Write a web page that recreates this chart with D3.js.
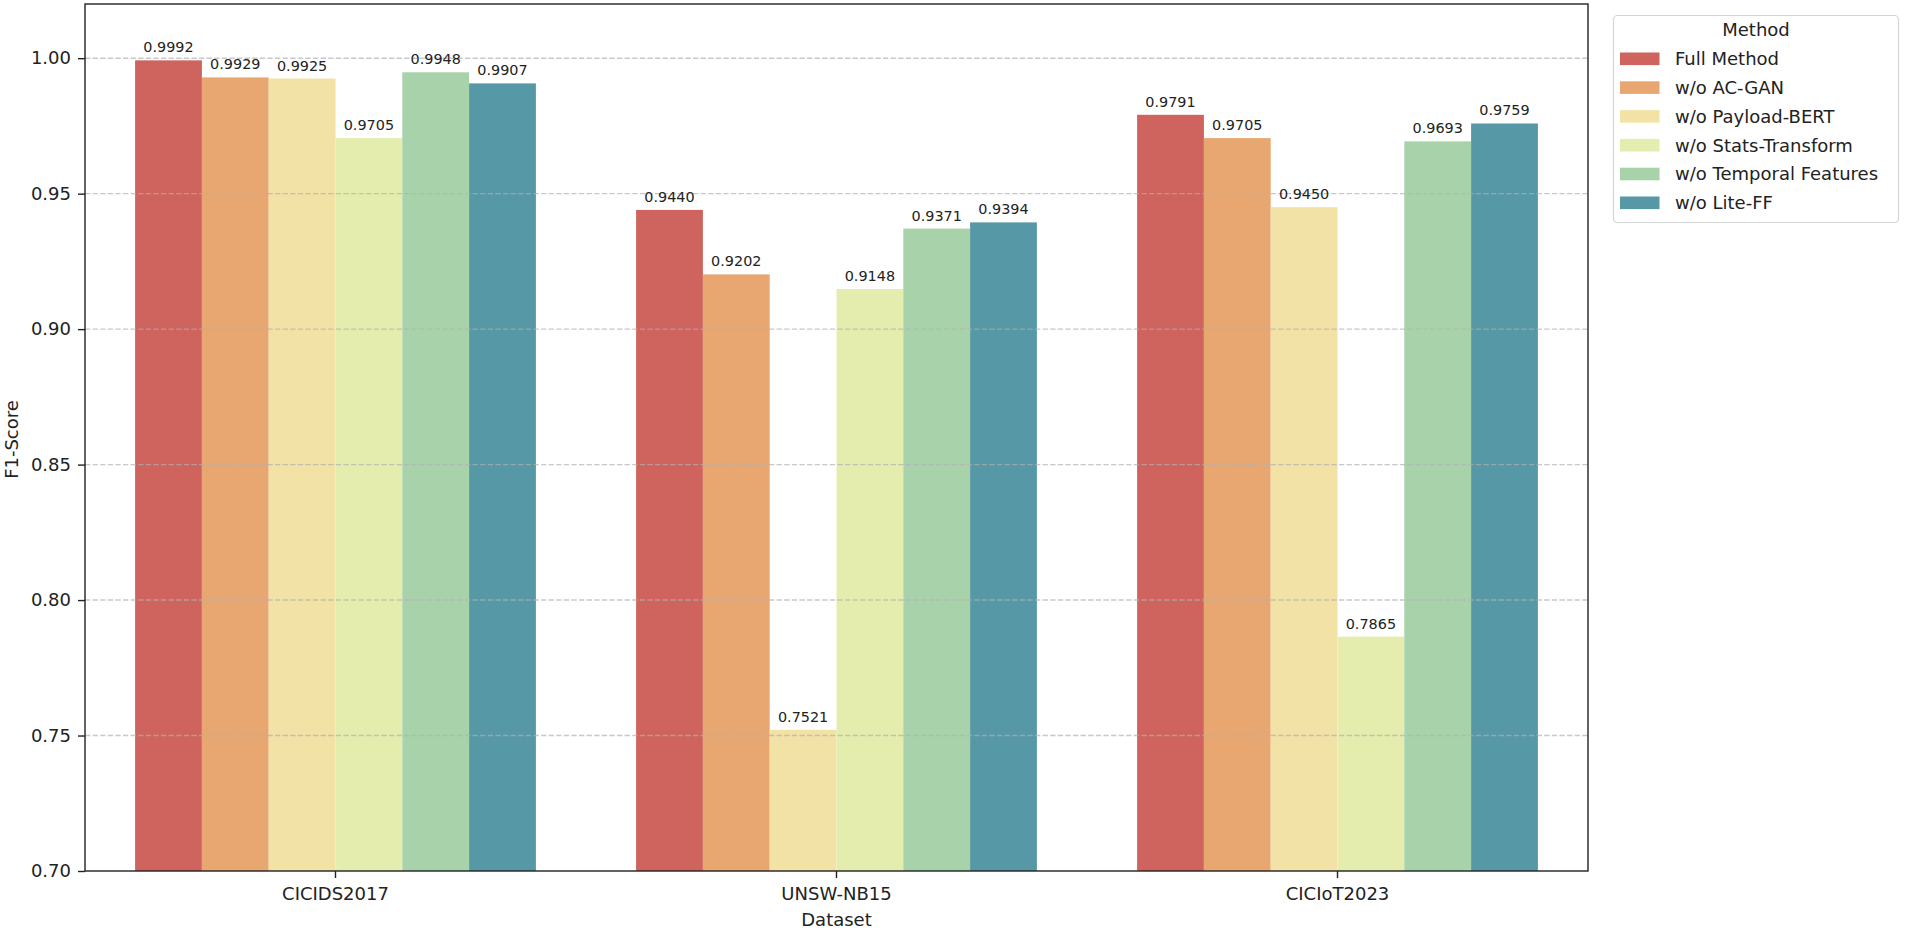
<!DOCTYPE html>
<html>
<head>
<meta charset="utf-8">
<script src="https://cdn.jsdelivr.net/npm/d3@7"></script>
<style>
  html, body { margin: 0; padding: 0; background: #fff; }
  svg { display: block; font-family: "DejaVu Sans", sans-serif; }
</style>
</head>
<body>
<svg id="chart" width="1905" height="932"></svg>
<script>
// ---- data ----
const datasets = ["CICIDS2017", "UNSW-NB15", "CICIoT2023"];
const methods = ["Full Method", "w/o AC-GAN", "w/o Payload-BERT", "w/o Stats-Transform", "w/o Temporal Features", "w/o Lite-FF"];
const fullMethod       = [0.9992, 0.9440, 0.9791];
const woACGAN          = [0.9929, 0.9202, 0.9705];
const woPayloadBERT    = [0.9925, 0.7521, 0.9450];
const woStatsTransform = [0.9705, 0.9148, 0.7865];
const woTemporal       = [0.9948, 0.9371, 0.9693];
const woLiteFF         = [0.9907, 0.9394, 0.9759];
const seriesValues = [fullMethod, woACGAN, woPayloadBERT, woStatsTransform, woTemporal, woLiteFF];
const yTicks = [0.70, 0.75, 0.80, 0.85, 0.90, 0.95, 1.00];
const colors = ["#cf635d", "#e8a770", "#f2e2a6", "#e5edae", "#a8d2aa", "#5698a5"];

// ---- layout ----
const svg = d3.select("#chart");
const L = 85, R = 1588, T = 4, B = 871;
const textColor = "#222";

const x0 = d3.scaleBand().domain(datasets).range([L, R]).paddingInner(0.2).paddingOuter(0.1);
const x1 = d3.scaleBand().domain(methods).range([0, x0.bandwidth()]).padding(0);
const y = d3.scaleLinear().domain([0.70, 1.02]).range([B, T]);

const rows = [];
methods.forEach((m, mi) => {
  datasets.forEach((d, di) => rows.push({ method: m, mi, dataset: d, value: seriesValues[mi][di] }));
});

// bars
svg.append("g").selectAll("rect").data(rows).join("rect")
  .attr("x", d => x0(d.dataset) + x1(d.method))
  .attr("y", d => y(d.value))
  .attr("width", x1.bandwidth())
  .attr("height", d => y(0.70) - y(d.value))
  .attr("fill", d => colors[d.mi]);

// grid (drawn above bars)
svg.append("g").selectAll("line").data(yTicks.slice(1)).join("line")
  .attr("x1", L).attr("x2", R)
  .attr("y1", d => y(d)).attr("y2", d => y(d))
  .attr("stroke", "#b0b0b0").attr("stroke-opacity", 0.7)
  .attr("stroke-width", 1.4).attr("stroke-dasharray", "5.3,2.3");

// value labels
svg.append("g").selectAll("text").data(rows).join("text")
  .attr("x", d => x0(d.dataset) + x1(d.method) + x1.bandwidth() / 2)
  .attr("y", d => y(d.value) - 8)
  .attr("text-anchor", "middle")
  .attr("font-size", "14.4px")
  .attr("fill", textColor)
  .text(d => d.value.toFixed(4));

// axes
const yAxis = d3.axisLeft(y).tickValues(yTicks).tickFormat(d3.format(".2f")).tickSize(7).tickPadding(7);
const gy = svg.append("g").attr("transform", `translate(${L},0)`).call(yAxis);
gy.select(".domain").remove();
gy.selectAll(".tick line").attr("stroke", textColor).attr("stroke-width", 1.4);
gy.selectAll(".tick text").attr("font-size", "18px").attr("fill", textColor)
  .attr("font-family", "DejaVu Sans");

const xAxis = d3.axisBottom(x0).tickSize(7).tickPadding(4);
const gx = svg.append("g").attr("transform", `translate(0,${B})`).call(xAxis);
gx.select(".domain").remove();
gx.selectAll(".tick line").attr("stroke", textColor).attr("stroke-width", 1.4);
gx.selectAll(".tick text").attr("font-size", "18px").attr("fill", textColor)
  .attr("font-family", "DejaVu Sans").attr("dy", null).attr("y", 29);

// frame
svg.append("rect").attr("x", L).attr("y", T).attr("width", R - L).attr("height", B - T)
  .attr("fill", "none").attr("stroke", textColor).attr("stroke-width", 1.4);

// axis labels
svg.append("text").attr("x", (L + R) / 2).attr("y", 926)
  .attr("text-anchor", "middle").attr("font-size", "18px").attr("fill", textColor).text("Dataset");
svg.append("text").attr("transform", `translate(18,${(T + B) / 2 + 2}) rotate(-90)`)
  .attr("text-anchor", "middle").attr("font-size", "18px").attr("fill", textColor).text("F1-Score");

// legend
const lg = svg.append("g");
lg.append("rect").attr("x", 1613.5).attr("y", 15.5).attr("width", 285).attr("height", 207)
  .attr("rx", 4).attr("fill", "#fff").attr("fill-opacity", 0.8)
  .attr("stroke", "#d4d4d4").attr("stroke-width", 1.2);
lg.append("text").attr("x", 1756).attr("y", 36).attr("text-anchor", "middle")
  .attr("font-size", "18px").attr("fill", textColor).text("Method");
const items = lg.selectAll("g.item").data(methods).join("g").attr("class", "item")
  .attr("transform", (d, i) => `translate(0,${58.8 + i * 28.8})`);
items.append("rect").attr("x", 1620).attr("y", -6.3).attr("width", 39.5).attr("height", 12.6)
  .attr("fill", (d, i) => colors[i]);
items.append("text").attr("x", 1675).attr("y", 6.3).attr("font-size", "18px")
  .attr("fill", textColor).text(d => d);
</script>
</body>
</html>
